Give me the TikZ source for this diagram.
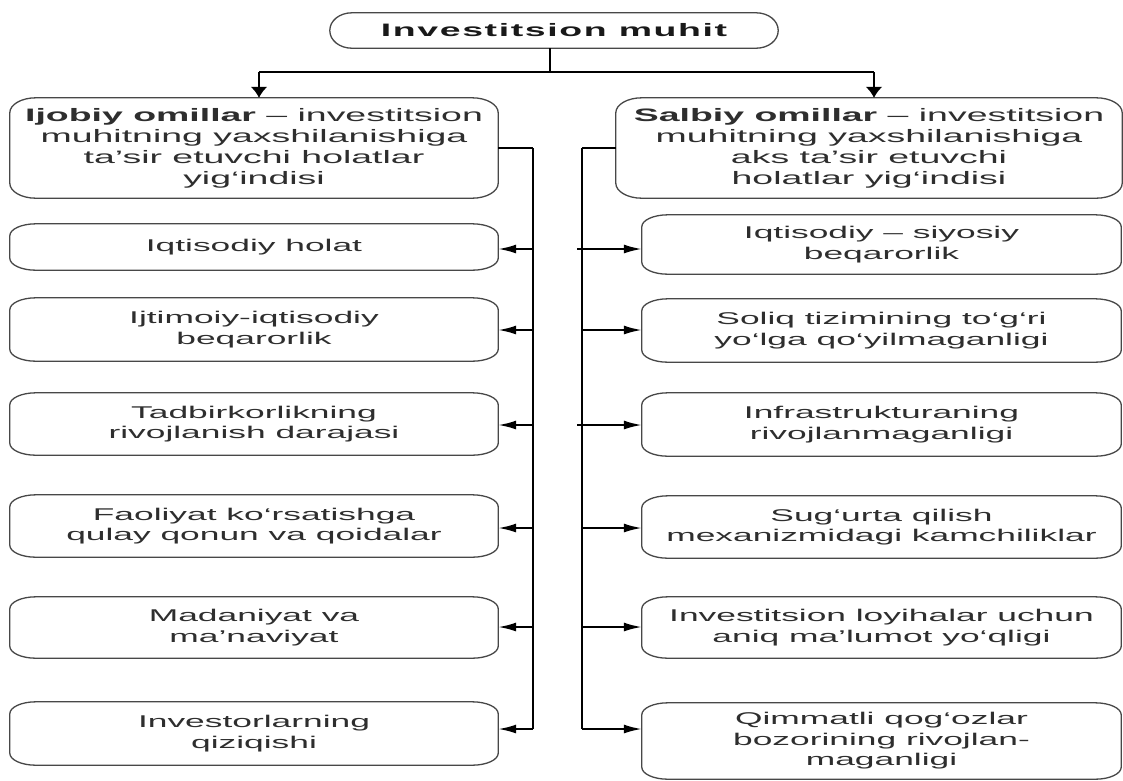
\documentclass[tikz,border=0pt]{standalone}
\usepackage{fontspec}
\setmainfont{Liberation Sans}[FakeStretch=2.08]
\usetikzlibrary{arrows.meta}
\newcommand\drawebox[3]{%
  \draw[bd] ([xshift=#2]#1.north west) -- ([xshift=-#2]#1.north east)
    arc[start angle=90,end angle=0,x radius=#2,y radius=#3]
    -- ([yshift=#3]#1.south east)
    arc[start angle=0,end angle=-90,x radius=#2,y radius=#3]
    -- ([xshift=#2]#1.south west)
    arc[start angle=270,end angle=180,x radius=#2,y radius=#3]
    -- ([yshift=-#3]#1.north west)
    arc[start angle=180,end angle=90,x radius=#2,y radius=#3] -- cycle;}
\begin{document}
\begin{tikzpicture}[x=1pt,y=-1pt,
  box/.style={inner sep=0pt, align=center, text=black!82,
    font=\fontsize{17}{20.5}\selectfont},
  hbox/.style={box, font=\fontsize{18}{21}\selectfont},
  lbox/.style={box, minimum width=488pt},
  rbox/.style={box, minimum width=479pt},
  bd/.style={draw=black!72, line width=1.3pt},
  bus/.style={line width=2.8pt, black},
  conn/.style={line width=2pt, black},
  harr/.style={conn, -{Latex[length=18pt,width=9pt]}},
  varr/.style={conn, -{Latex[length=11pt,width=17pt]}}]
\useasboundingbox (0,0) rectangle (1123,780);

% title
\node[box, minimum width=448pt, minimum height=35pt, text=black!90,
  font=\fontsize{18}{21}\selectfont\bfseries\addfontfeature{LetterSpace=9}] (top) at (554,30.5) {Investitsion muhit};

% headers
\node[hbox, minimum width=488pt, minimum height=100pt] (lh) at (254,148)
  {\textbf{Ijobiy omillar} – investitsion\\ muhitning yaxshilanishiga\\ ta'sir etuvchi holatlar\\ yig‘indisi};
\node[hbox, minimum width=506pt, minimum height=100pt] (rh) at (869,148)
  {\textbf{Salbiy omillar} – investitsion\\ muhitning yaxshilanishiga\\ aks ta'sir etuvchi\\ holatlar yig‘indisi};

% left boxes
\node[lbox, minimum height=46pt] (l1) at (254,247) {Iqtisodiy holat};
\node[lbox, minimum height=63pt] (l2) at (254,329.5) {Ijtimoiy-iqtisodiy\\ beqarorlik};
\node[lbox, minimum height=62pt] (l3) at (254,424) {Tadbirkorlikning\\ rivojlanish darajasi};
\node[lbox, minimum height=62pt] (l4) at (254,526) {Faoliyat ko‘rsatishga\\ qulay qonun va qoidalar};
\node[lbox, minimum height=61pt] (l5) at (254,627.5) {Madaniyat va\\ ma'naviyat};
\node[lbox, minimum height=63pt] (l6) at (254,733.5) {Investorlarning\\ qiziqishi};

% right boxes
\node[rbox, minimum height=59pt] (r1) at (881.5,244.5) {Iqtisodiy – siyosiy\\ beqarorlik};
\node[rbox, minimum height=63pt] (r2) at (881.5,330.5) {Soliq tizimining to‘g‘ri\\ yo‘lga qo‘yilmaganligi};
\node[rbox, minimum height=63pt] (r3) at (881.5,424.5) {Infrastrukturaning\\ rivojlanmaganligi};
\node[rbox, minimum height=62pt] (r4) at (881.5,527) {Sug‘urta qilish\\ mexanizmidagi kamchiliklar};
\node[rbox, minimum height=61pt] (r5) at (881.5,627.5) {Investitsion loyihalar uchun\\ aniq ma'lumot yo‘qligi};
\node[rbox, minimum height=76pt] (r6) at (881.5,741) {Qimmatli qog‘ozlar\\ bozorining rivojlan-\\ maganligi};

% borders
\drawebox{top}{22pt}{17.5pt}
\foreach \n in {lh,rh}{\drawebox{\n}{26pt}{15pt}}
\foreach \n in {l1,l2,l3,l4,l5,l6,r1,r2,r3,r4,r5,r6}{\drawebox{\n}{26pt}{12pt}}

% top connectors
\coordinate (tl) at (259,72);
\coordinate (tr) at (874,72);
\draw[line width=2.6pt] ([xshift=-4pt]top.south) -- ([xshift=-4pt]top.south |- tl);
\draw[conn] (tl) -- (tr);
\draw[varr] (tl) -- (tl |- lh.north);
\draw[varr] (tr) -- (tr |- rh.north);

% buses
\coordinate (ltop) at (533,148);
\coordinate (lbot) at (533,729);
\coordinate (rtop) at (582,148);
\coordinate (rbot) at (582,729);
\draw[conn] (lh.east) -- (ltop);
\draw[conn] (rh.west) -- (rtop);
\draw[bus] (ltop) -- (lbot);
\draw[bus] (rtop) -- (rbot);

% left arrows
\foreach \n/\y in {l1/249,l2/330,l3/425,l4/528,l5/627}{
  \draw[harr] (ltop |- 0,\y) -- (\n.east |- 0,\y);}
\draw[harr] (lbot) -- (lbot -| l6.east);

% right arrows
\foreach \n/\y/\s in {r1/249/-5,r2/330/0,r3/425/-5,r4/528/0,r5/627/0}{
  \draw[harr] ([xshift=\s pt]rtop |- 0,\y) -- (\n.west |- 0,\y);}
\draw[harr] (rbot) -- (rbot -| r6.west);
\end{tikzpicture}
\end{document}
